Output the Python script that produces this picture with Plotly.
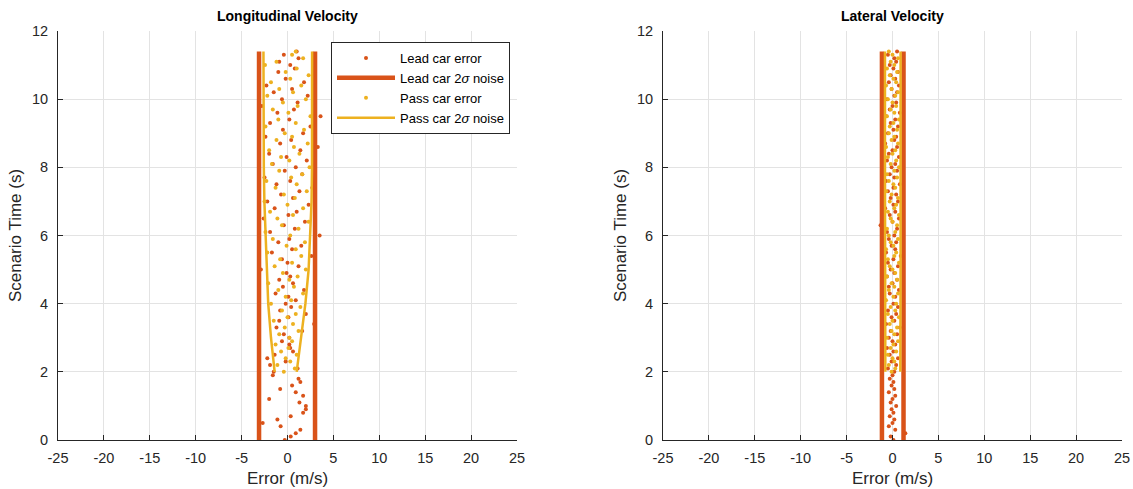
import plotly.graph_objects as go

# ---------------- data ----------------
time_s = [0.0, 0.1, 0.2, 0.3, 0.4, 0.5, 0.6, 0.7, 0.8, 0.9,
          1.0, 1.1, 1.2, 1.3, 1.4, 1.5, 1.6, 1.7, 1.8, 1.9,
          2.0, 2.1, 2.2, 2.3, 2.4, 2.5, 2.6, 2.7, 2.8, 2.9,
          3.0, 3.1, 3.2, 3.3, 3.4, 3.5, 3.6, 3.7, 3.8, 3.9,
          4.0, 4.1, 4.2, 4.3, 4.4, 4.5, 4.6, 4.7, 4.8, 4.9,
          5.0, 5.1, 5.2, 5.3, 5.4, 5.5, 5.6, 5.7, 5.8, 5.9,
          6.0, 6.1, 6.2, 6.3, 6.4, 6.5, 6.6, 6.7, 6.8, 6.9,
          7.0, 7.1, 7.2, 7.3, 7.4, 7.5, 7.6, 7.7, 7.8, 7.9,
          8.0, 8.1, 8.2, 8.3, 8.4, 8.5, 8.6, 8.7, 8.8, 8.9,
          9.0, 9.1, 9.2, 9.3, 9.4, 9.5, 9.6, 9.7, 9.8, 9.9,
          10.0, 10.1, 10.2, 10.3, 10.4, 10.5, 10.6, 10.7, 10.8, 10.9,
          11.0, 11.1, 11.2, 11.3, 11.4]
lead_time = time_s
pass_time = time_s[20:]

lead_long_err = [-0.3, 0.35, 0.9, 1.4, -0.75, -2.7, -1.1, 0.35, 1.7, 2.0,
                 2.0, 1.3, -2.0, 1.7, 0.9, -0.8, 0.5, 1.4, 1.2, -1.6,
                 -1.5, 1.1, -1.9, -0.2, -2.2, -1.4, 0.6, 0.3, 0.2, -0.6,
                 0.2, -0.4, 1.6, -1.2, 2.9, -0.9, 0.1, 2.0, -0.8, 0.4,
                 -0.2, 0.9, 0.1, -1.3, 1.8, -0.5, 0.6, -0.9, 0.3, -0.1,
                 -2.9, 1.2, 0.0, -0.6, 2.6, -1.7, 0.5, 1.5, -1.0, 0.2,
                 3.5, -1.9, 0.8, -0.4, 1.9, -2.6, 0.1, 1.0, -1.4, 2.3,
                 -2.2, 0.6, -0.7, 1.3, 2.7, -1.2, 0.3, -2.5, 1.6, -0.3,
                 0.9, -1.6, 2.1, -0.1, -2.0, 1.4, 3.3, -0.8, 0.4, -2.4,
                 1.7, -0.5, 2.5, -1.9, 0.2, 3.6, -1.1, 0.7, -2.8, 1.1,
                 -0.6, 2.2, -1.5, 0.5, -2.3, 1.8, -0.2, 2.9, -1.0, 0.8,
                 0.3, -0.9, 1.2, -0.4, 1.0]
pass_long_err = [-0.4, 0.8, -1.1, 0.3, -0.2, 1.0, -0.7, 0.1, -1.3, 0.5,
                 0.2, -0.9, 1.2, -0.3, 0.6, -1.5, 0.0, 0.9, -0.6, 1.4,
                 -1.8, 0.4, -0.2, 1.7, -1.0, 0.7, -2.1, 0.2, 1.1, -0.5,
                 2.0, -1.4, 0.5, -0.8, 1.5, -2.2, 0.9, -0.1, 1.9, -1.6,
                 0.3, -2.4, 1.2, -0.6, 2.3, -1.1, 0.6, -1.9, 1.7, 0.0,
                 -2.5, 0.8, -0.4, 2.1, -1.3, 1.0, -2.3, 0.4, 1.6, -0.9,
                 2.4, -1.7, 0.2, -0.7, 1.3, -2.0, 0.7, 2.2, -1.2, 0.5,
                 -0.3, 1.8, -2.4, 0.9, -1.0, 2.5, 0.1, -1.6, 1.1, -0.5,
                 2.0, -2.2, 0.6, -0.9, 1.5, -1.8, 0.3, 2.3, -0.2, 1.0,
                 -2.45, -1.2, 1.7, 0.5, 0.9]

lead_lat_err = [0.1, -0.2, 1.4, 0.3, -0.4, 0.0, 0.2, -0.3, 0.1, -0.1,
                0.4, -0.2, 0.0, 0.3, -0.4, 0.2, -0.1, 0.1, -0.3, 0.0,
                0.2, -0.5, 0.4, -0.1, 0.6, -0.3, 0.1, -0.6, 0.3, 0.0,
                -0.4, 0.5, -0.2, 0.8, -0.7, 0.2, -0.1, 0.4, -0.5, 0.6,
                0.1, -0.8, 0.3, -0.3, 0.7, -0.4, 0.0, 0.5, -0.6, 0.2,
                -0.2, 0.6, -0.5, 0.1, 0.9, -0.7, 0.3, -0.1, 0.4, -0.4,
                0.2, -0.6, 0.5, -1.3, 0.0, 0.7, -0.3, 0.3, -0.8, 0.1,
                0.6, -0.2, 0.4, -0.5, 0.1, 0.8, -0.7, 0.2, -0.3, 0.5,
                -0.1, 0.3, -0.6, 0.7, -0.4, 0.0, 0.5, -0.8, 0.2, 0.4,
                -0.5, 0.1, 0.6, -0.2, 0.3, -0.7, 0.8, -0.3, 0.0, 0.4,
                -0.6, 0.2, 0.5, -0.1, 0.7, -0.4, 0.3, -0.2, 0.6, 0.1,
                -0.3, 0.4, 0.2, -0.5, 0.5]
pass_lat_err = [-0.1, 0.3, -0.4, 0.2, 0.0, -0.5, 0.4, -0.2, 0.1, 0.6,
                -0.6, 0.2, -0.1, 0.5, -0.3, 0.0, 0.7, -0.5, 0.3, -0.2,
                0.4, -0.7, 0.1, 0.6, -0.4, 0.2, -0.1, 0.5, -0.6, 0.3,
                0.0, -0.3, 0.7, -0.5, 0.2, 0.4, -0.7, 0.1, -0.2, 0.6,
                -0.4, 0.3, -0.6, 0.5, 0.0, -0.2, 0.7, -0.5, 0.2, 0.4,
                -0.3, 0.6, -0.1, -0.7, 0.3, 0.1, -0.4, 0.5, -0.6, 0.2,
                0.7, -0.2, 0.4, -0.5, 0.0, 0.3, -0.7, 0.6, -0.1, 0.2,
                -0.4, 0.5, -0.3, 0.1, 0.7, -0.6, 0.2, -0.2, 0.4, 0.0,
                -0.5, 0.3, 0.6, -0.1, -0.7, 0.4, 0.1, -0.3, 0.5, -0.6,
                0.2, -0.2, 0.6, 0.0, -0.4]

# 2-sigma noise envelopes
lead_noise_time = [0.0, 11.4]
lead_long_lo = [-3.1, -3.1]
lead_long_hi = [3.0, 3.0]
pass_noise_time = [2.0, 3.0, 4.0, 5.0, 6.0, 7.0, 8.0, 9.0, 10.0, 11.4]
pass_long_lo = [-1.4, -1.8, -2.1, -2.25, -2.4, -2.52, -2.58, -2.6, -2.62, -2.62]
pass_long_hi = [1.0, 1.5, 1.95, 2.3, 2.5, 2.62, 2.67, 2.68, 2.68, 2.68]

lead_lat_lo = [-1.15, -1.15]
lead_lat_hi = [1.2, 1.2]
pass_lat_lo = [-0.78, -0.8, -0.8, -0.82, -0.82, -0.82, -0.82, -0.82, -0.82, -0.82]
pass_lat_hi = [0.85, 0.88, 0.88, 0.88, 0.88, 0.88, 0.88, 0.88, 0.88, 0.88]

x_ticks = [-25, -20, -15, -10, -5, 0, 5, 10, 15, 20, 25]
x_tick_text = ["-25", "-20", "-15", "-10", "-5", "0", "5", "10", "15", "20", "25"]
y_ticks = [0, 2, 4, 6, 8, 10, 12]
titles = ["Longitudinal Velocity", "Lateral Velocity"]
names = ["Lead car error", "Lead car 2<i>σ</i> noise",
         "Pass car error", "Pass car 2<i>σ</i> noise"]

LEAD = "#D95319"
PASS = "#EDB120"
FONT = "Liberation Sans, Arial, sans-serif"

fig = go.Figure()

panels = [
    (lead_long_err, pass_long_err, lead_long_lo, lead_long_hi, pass_long_lo, pass_long_hi, "x", "y", True),
    (lead_lat_err, pass_lat_err, lead_lat_lo, lead_lat_hi, pass_lat_lo, pass_lat_hi, "x2", "y2", False),
]

for le, pe, llo, lhi, plo, phi, xa, ya, show in panels:
    fig.add_trace(go.Scatter(x=le, y=lead_time, mode="markers", name=names[0],
                             marker=dict(color=LEAD, size=4), xaxis=xa, yaxis=ya,
                             showlegend=show))
    fig.add_trace(go.Scatter(x=llo + [None] + lhi,
                             y=lead_noise_time + [None] + lead_noise_time,
                             mode="lines", name=names[1],
                             line=dict(color=LEAD, width=4.5), xaxis=xa, yaxis=ya,
                             showlegend=show))
    fig.add_trace(go.Scatter(x=pe, y=pass_time, mode="markers", name=names[2],
                             marker=dict(color=PASS, size=4), xaxis=xa, yaxis=ya,
                             showlegend=show))
    fig.add_trace(go.Scatter(x=plo + [None] + phi,
                             y=pass_noise_time + [None] + pass_noise_time,
                             mode="lines", name=names[3],
                             line=dict(color=PASS, width=2.5), xaxis=xa, yaxis=ya,
                             showlegend=show))

axis_common = dict(showgrid=True, gridcolor="#e3e3e3", gridwidth=1,
                   zeroline=False, showline=True, linecolor="#262626", linewidth=1,
                   ticks="inside", ticklen=5, tickcolor="#262626",
                   tickfont=dict(family=FONT, size=14.5, color="#262626"),
                   mirror=False, automargin=False)

L, R, T, B = 58, 11, 31, 49
W, H = 1133, 489
pw = W - L - R
ph = H - T - B
d1 = [0, (517 - L) / pw]
d2 = [(663 - L) / pw, 1]

xcommon = dict(range=[-25, 25], tickmode="array", tickvals=x_ticks, ticktext=x_tick_text,
               ticklabelstandoff=5,
               title=dict(text="Error (m/s)", font=dict(size=17, color="#262626"), standoff=6))
ycommon = dict(domain=[0, 1], range=[0, 12], tickvals=y_ticks, ticklabelstandoff=6,
               title=dict(text="Scenario Time (s)", font=dict(size=17, color="#262626"), standoff=6))

fig.update_layout(
    width=W, height=H,
    margin=dict(l=L, r=R, t=T, b=B, autoexpand=False),
    paper_bgcolor="white", plot_bgcolor="white",
    font=dict(family=FONT, color="#262626"),
    xaxis=dict(domain=d1, anchor="y", **xcommon, **axis_common),
    yaxis=dict(anchor="x", **ycommon, **axis_common),
    xaxis2=dict(domain=d2, anchor="y2", **xcommon, **axis_common),
    yaxis2=dict(anchor="x2", **ycommon, **axis_common),
    legend=dict(x=(510 - L) / pw, y=1 - (42 - T) / ph, xanchor="right", yanchor="top",
                bgcolor="white", bordercolor="#262626", borderwidth=1,
                font=dict(family=FONT, size=13, color="#000000"),
                itemwidth=58, tracegroupgap=0),
    showlegend=True,
)

for i, t in enumerate(titles):
    dom = d1 if i == 0 else d2
    fig.add_annotation(text="<b>" + t + "</b>", xref="paper", yref="paper",
                       x=(dom[0] + dom[1]) / 2, y=1 + (T - 16) / ph,
                       xanchor="center", yanchor="middle", showarrow=False,
                       font=dict(family=FONT, size=14, color="#000000"))

fig.write_html("out.html", config={"displayModeBar": False},
               post_script="document.body.style.margin='0px';document.body.style.overflow='hidden';")
